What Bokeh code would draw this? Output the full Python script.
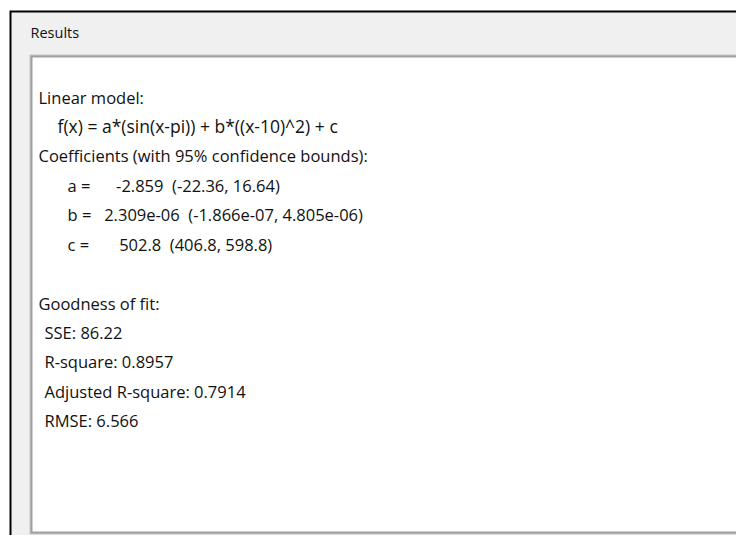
from bokeh.plotting import figure
from bokeh.models import Range1d
from bokeh.embed import file_html
from bokeh.resources import INLINE
from bokeh.core.properties import value

# ---- content (text of the results panel) ----
panel_title = "Results"
model_header = "Linear model:"
model_formula = "f(x) = a*(sin(x-pi)) + b*((x-10)^2) + c"
coef_header = "Coefficients (with 95% confidence bounds):"
coef_names = ["a", "b", "c"]
coef_values = ["-2.859", "2.309e-06", "502.8"]
coef_bounds = ["(-22.36, 16.64)", "(-1.866e-07, 4.805e-06)", "(406.8, 598.8)"]
gof_header = "Goodness of fit:"
gof_names = ["SSE", "R-square", "Adjusted R-square", "RMSE"]
gof_values = ["86.22", "0.8957", "0.7914", "6.566"]

# ---- layout ----
W, H = 736, 535

p = figure(width=W, height=H, x_range=Range1d(0, W), y_range=Range1d(H, 0),
           output_backend="svg", toolbar_location=None, min_border=0)
p.axis.visible = False
p.grid.visible = False
p.outline_line_color = None
p.background_fill_color = "white"
p.border_fill_color = "white"

R = W + 10
B = H + 10
# outer black frame and grey panel
p.quad(left=[9], right=[R], top=[10], bottom=[B], fill_color="black", line_color=None)
p.quad(left=[11], right=[R], top=[12], bottom=[B], fill_color="#f0f0f0", line_color=None)
# inner white text box with grey bevel border
p.quad(left=[29], right=[R], top=[54], bottom=[534], fill_color="#c6c6c6", line_color=None)
p.quad(left=[30], right=[R], top=[55], bottom=[533], fill_color="#a0a0a0", line_color=None)
p.quad(left=[32], right=[R], top=[57], bottom=[531], fill_color="white", line_color=None)

FONT = value("Open Sans")
COLOR = "#111111"
SIZE = "16.5px"
NB = "\u00a0"

def put(xs, ys, texts, align="left", size=SIZE):
    p.text(x=xs, y=ys, text=texts,
           text_font=FONT, text_font_size=size, text_color=COLOR,
           text_align=align, text_baseline="alphabetic")

# title of the panel
put([30], [31.5], [panel_title], size="14.5px")

step = 29.4
base = 96.5
rows = [base + i * step for i in range(12)]

put([38], [rows[0]], [model_header])
put([57], [rows[1]], [model_formula], size="17.5px")
put([38], [rows[2]], [coef_header])

coef_lines = []
for n, v, bnd in zip(coef_names, coef_values, coef_bounds):
    pad = 1 + (11 - len(v))
    coef_lines.append(n + NB + "=" + NB * pad + v + NB * 2 + bnd)
put([67] * 3, rows[3:6], coef_lines)

put([38], [rows[7] + 1], [gof_header])
put([44] * 4, rows[8:12], [f"{n}:{NB}{v}" for n, v in zip(gof_names, gof_values)])

open("out.html", "w").write(file_html(p, INLINE))
